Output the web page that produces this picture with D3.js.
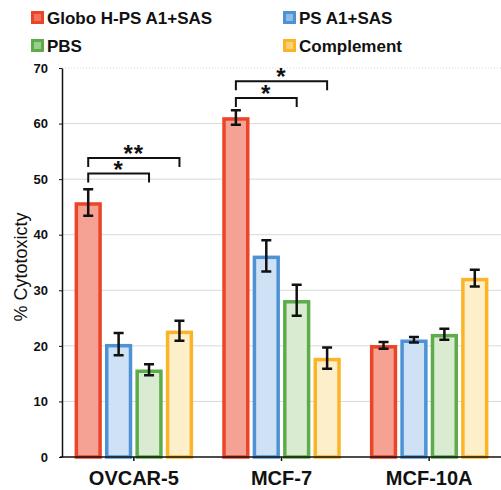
<!DOCTYPE html>
<html>
<head>
<meta charset="utf-8">
<script src="https://cdn.jsdelivr.net/npm/d3@7"></script>
<style>
  body { margin: 0; background: #fff; }
  text { font-family: Arial, "Liberation Sans", sans-serif; }
</style>
</head>
<body>
<svg width="501" height="490"></svg>
<script>
// data
var categories = ["OVCAR-5", "MCF-7", "MCF-10A"];
var seriesNames = ["Globo H-PS A1+SAS", "PS A1+SAS", "PBS", "Complement"];
var globoH = [45.8, 61.1, 20.1];
var globoHErr = [2.4, 1.3, 0.6];
var psA1 = [20.3, 36.2, 21.1];
var psA1Err = [2.0, 2.8, 0.5];
var pbs = [15.7, 28.2, 22.1];
var pbsErr = [1.0, 2.8, 1.0];
var complement = [22.7, 17.8, 32.2];
var complementErr = [1.8, 1.9, 1.5];
var yTicks = [0, 10, 20, 30, 40, 50, 60, 70];
// significance brackets: category, from series, to series, label, height (% value)
var brackets = [
  ["OVCAR-5", 0, 2, "*", 51.0],
  ["OVCAR-5", 0, 3, "**", 53.8],
  ["MCF-7", 0, 2, "*", 64.6],
  ["MCF-7", 0, 3, "*", 67.6]
];

var strokes = ["#ec4428", "#4d92d6", "#5cad4a", "#fbb427"];
var fills = ["#f5a193", "#cfe1f4", "#d9ecd2", "#fdefc9"];
var values = [globoH, psA1, pbs, complement];
var errs = [globoHErr, psA1Err, pbsErr, complementErr];

var svg = d3.select("svg");

var y = d3.scaleLinear().domain([0, 70]).range([457, 68]);
var x0 = d3.scaleBand().domain(categories).range([60, 503]);
var x1 = d3.scaleBand().domain(d3.range(4)).range([-59, 59]).paddingInner(0.12);

// grid
svg.append("g").selectAll("line")
    .data(yTicks.filter(function(d) { return d > 0; }))
  .enter().append("line")
    .attr("x1", 62).attr("x2", 501)
    .attr("y1", function(d) { return y(d); })
    .attr("y2", function(d) { return y(d); })
    .attr("stroke", "#d9d9d9")
    .attr("stroke-width", 1)
    .attr("stroke-dasharray", function(d) { return d == 70 ? "1,2" : null; });

// bars
var groups = svg.append("g").selectAll("g")
    .data(categories)
  .enter().append("g")
    .attr("transform", function(d) { return "translate(" + (x0(d) + x0.bandwidth() / 2) + ",0)"; });

groups.each(function(cat, ci) {
  var g = d3.select(this);
  for (var s = 0; s < 4; s++) {
    var v = values[s][ci], e = errs[s][ci];
    var bx = x1(s) + 1.5, bw = x1.bandwidth() - 3;
    g.append("rect")
        .attr("x", bx)
        .attr("y", y(v) + 1.5)
        .attr("width", bw)
        .attr("height", y(0) - y(v) - 1.5)
        .attr("fill", fills[s])
        .attr("stroke", strokes[s])
        .attr("stroke-width", 3.5);
    var cx = x1(s) + x1.bandwidth() / 2;
    g.append("path")
        .attr("d", "M" + (cx - 5) + "," + y(v + e) + "H" + (cx + 5) +
                   "M" + cx + "," + y(v + e) + "V" + y(v - e) +
                   "M" + (cx - 5) + "," + y(v - e) + "H" + (cx + 5))
        .attr("fill", "none")
        .attr("stroke", "#111")
        .attr("stroke-width", 2.5);
  }
});

// brackets
brackets.forEach(function(b) {
  var c = x0(b[0]) + x0.bandwidth() / 2;
  var xa = c + x1(b[1]) + x1.bandwidth() / 2;
  var xb = c + x1(b[2]) + x1.bandwidth() / 2;
  var top = y(b[4]);
  svg.append("path")
      .attr("d", "M" + xa + "," + (top + 9) + "V" + top + "H" + xb + "V" + (top + 9))
      .attr("fill", "none")
      .attr("stroke", "#111")
      .attr("stroke-width", 2);
  svg.append("text")
      .attr("x", (xa + xb) / 2)
      .attr("y", top + 4)
      .attr("text-anchor", "middle")
      .attr("font-size", 24)
      .attr("font-weight", "bold")
      .attr("letter-spacing", 1)
      .attr("fill", "#111")
      .text(b[3]);
});

// y axis
var yAxis = svg.append("g")
    .attr("transform", "translate(62,0)")
    .call(d3.axisLeft(y).tickValues(yTicks).tickSize(3).tickSizeOuter(0));
yAxis.select(".domain").attr("stroke", "#111").attr("stroke-width", 1.5);
yAxis.selectAll(".tick line").attr("stroke", "#111");
yAxis.selectAll("text")
    .attr("font-family", "'Liberation Sans Narrow', Arial, sans-serif")
    .attr("font-weight", "bold")
    .attr("font-size", 13)
    .attr("fill", "#111")
    .attr("dx", "-8");

// x axis
var xAxis = svg.append("g")
    .attr("transform", "translate(0,457)")
    .call(d3.axisBottom(x0).tickSize(4).tickSizeOuter(0));
xAxis.select(".domain").attr("stroke", "#111").attr("stroke-width", 1.5)
    .attr("d", "M60,0H501");
xAxis.selectAll(".tick line").attr("stroke", "#111").attr("stroke-width", 1.5);
xAxis.selectAll("text")
    .attr("font-weight", "bold")
    .attr("font-size", 20)
    .attr("fill", "#111")
    .attr("y", 28)
    .attr("dy", null);

svg.append("text")
    .attr("transform", "translate(27,267) rotate(-90)")
    .attr("text-anchor", "middle")
    .attr("font-size", 18)
    .attr("fill", "#111")
    .text("% Cytotoxicty");

// legend
var legendPos = [[31, 18], [283, 18], [31, 46], [283, 46]];
seriesNames.forEach(function(name, i) {
  var p = legendPos[i];
  svg.append("rect")
      .attr("x", p[0] + 1.5).attr("y", p[1] - 5.5)
      .attr("width", 10).attr("height", 10)
      .attr("fill", d3.interpolateRgb(strokes[i], fills[i])(0.5))
      .attr("stroke", strokes[i])
      .attr("stroke-width", 3);
  svg.append("text")
      .attr("x", p[0] + 16).attr("y", p[1] + 6)
      .attr("font-size", 17)
      .attr("font-weight", "bold")
      .attr("fill", "#111")
      .text(name);
});
</script>
</body>
</html>
